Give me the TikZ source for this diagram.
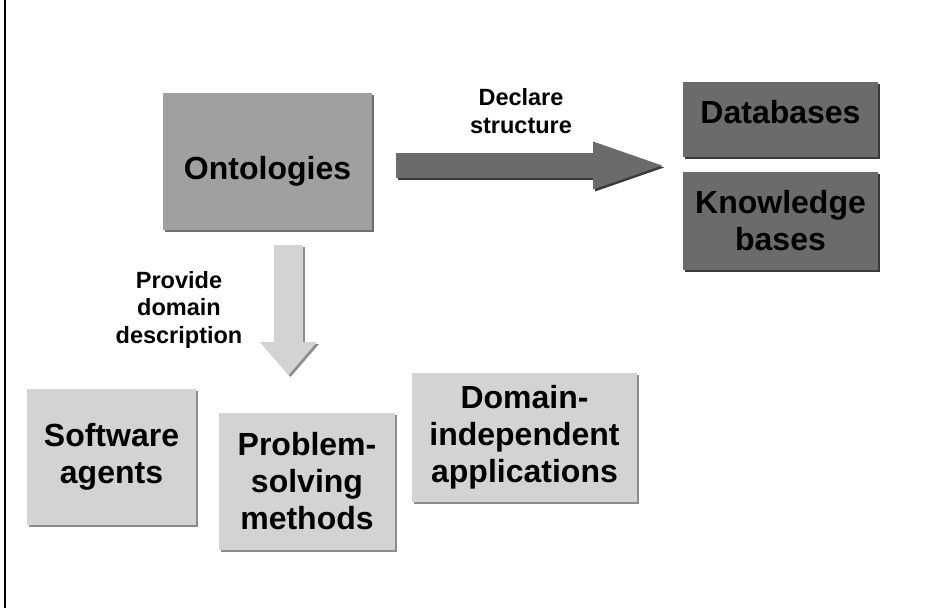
\documentclass[tikz,border=0pt]{standalone}
\usepackage{fontspec}
\setmainfont{Liberation Sans}
\usetikzlibrary{arrows.meta,shadows}
\definecolor{ontofill}{HTML}{A0A0A0}
\definecolor{ontoshade}{HTML}{6E6E6E}
\definecolor{storefill}{HTML}{6B6B6B}
\definecolor{storeshade}{HTML}{3A3A3A}
\definecolor{userfill}{HTML}{D3D3D3}
\definecolor{usershade}{HTML}{8C8C8C}

\begin{document}
\begin{tikzpicture}[x=1pt, y=-1pt,
  box/.style={inner sep=0pt, align=center, font=\fontsize{32}{37}\selectfont\bfseries},
  ontobox/.style={box, fill=ontofill, drop shadow={shadow xshift=2pt, shadow yshift=-2pt, fill=ontoshade, opacity=1}},
  storebox/.style={box, fill=storefill, minimum width=195pt, drop shadow={shadow xshift=2pt, shadow yshift=-2pt, fill=storeshade, opacity=1}},
  userbox/.style={box, fill=userfill, drop shadow={shadow xshift=2pt, shadow yshift=-2pt, fill=usershade, opacity=1}},
  lbl/.style={align=center, inner sep=0pt, font=\fontsize{23.5}{27.5}\selectfont\bfseries},
  declarr/.style={line width=25pt, -{Triangle[length=69pt, width=48pt, line width=0pt]}},
  provarr/.style={line width=29pt, -{Triangle[length=33pt, width=57pt, line width=0pt]}},
]
  \useasboundingbox (0,0) rectangle (952,608);
  \draw[line width=2.5pt] (5,0) -- (5,608);

  \node[ontobox, minimum width=209pt, minimum height=137pt, text height=38pt, text depth=3pt] (onto) at (267.5,161.5) {Ontologies};
  \node[storebox, minimum height=75pt, text height=16pt, text depth=8pt] (db) at (780.5,119.5) {Databases};
  \node[storebox, minimum height=98pt] (kb) at (780.5,221) {Knowledge\\bases};
  \node[userbox, minimum width=169pt, minimum height=136pt] (agents) at (111.5,457) {Software\\agents};
  \node[userbox, minimum width=176pt, minimum height=137pt] (psm) at (307,481.5) {Problem-\\solving\\methods};
  \node[userbox, minimum width=225pt, minimum height=129pt] (apps) at (524.5,437.5) {Domain-\\independent\\applications};

  % block arrows
  \coordinate (declS) at (396,165.5);
  \coordinate (declT) at (662,165.5);
  \coordinate (provS) at (288.5,245);
  \coordinate (provT) at (288.5,375);
  \draw[declarr, draw=storeshade] ([shift={(2,2)}]declS) -- ([shift={(2,2)}]declT);
  \draw[declarr, draw=storefill] (declS) -- (declT);
  \draw[provarr, draw=usershade] ([shift={(2,2)}]provS) -- ([shift={(2,2)}]provT);
  \draw[provarr, draw=userfill] (provS) -- (provT);

  \node[lbl] (decl) at (521,111) {Declare\\structure};
  \node[lbl] (prov) at (179,309.5) {Provide\\domain\\description};
\end{tikzpicture}
\end{document}
